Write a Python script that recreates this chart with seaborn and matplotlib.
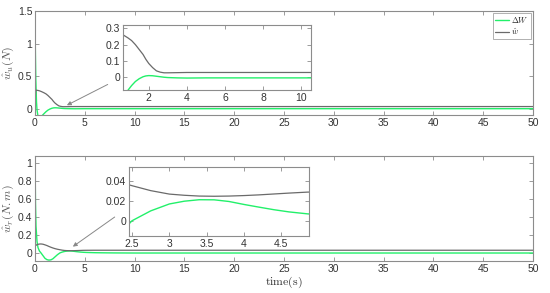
import matplotlib
matplotlib.use("Agg")
import matplotlib.pyplot as plt
import seaborn as sns

# ---- data ----
t_u = [0, 0.04, 0.08, 0.15, 0.2, 0.3, 0.45, 0.65, 0.9, 1.1, 1.3, 1.5, 1.7, 1.85, 2.0,
       2.2, 2.4, 2.6, 2.8, 3.0, 3.5, 4.0, 5.0, 7.0, 10, 20, 30, 40, 50]
dw_u = [1.33, 0.85, 0.45, 0.1, -0.02, -0.12, -0.15, -0.12, -0.08, -0.05, -0.025, -0.008,
        0.004, 0.009, 0.011, 0.01, 0.007, 0.004, 0.001, -0.001, -0.003, -0.004,
        -0.003, -0.003, -0.003, -0.003, -0.003, -0.003, -0.003]
w_u = [0.0, 0.2, 0.28, 0.281, 0.28, 0.278, 0.272, 0.26, 0.242, 0.225, 0.2, 0.17, 0.14,
       0.11, 0.085, 0.06, 0.04, 0.032, 0.028, 0.028, 0.029, 0.03, 0.03, 0.03, 0.03,
       0.03, 0.03, 0.03, 0.03]

t_r = [0, 0.05, 0.1, 0.2, 0.3, 0.45, 0.6, 0.8, 1.0, 1.2, 1.4, 1.6, 1.8, 2.0, 2.25, 2.5,
       2.75, 3.0, 3.2, 3.4, 3.6, 3.8, 4.0, 4.2, 4.4, 4.6, 4.85, 5.2, 6, 7, 8, 10, 20, 30, 40, 50]
dw_r = [1.08, 0.55, 0.3, 0.13, 0.06, 0.02, 0.0, -0.03, -0.06, -0.075, -0.08, -0.077,
        -0.065, -0.045, -0.02, 0.0, 0.01, 0.017, 0.0198, 0.0213, 0.0212, 0.0195, 0.0165,
        0.0138, 0.0112, 0.009, 0.007, 0.005, 0.0025, 0.001, 0.0, -0.001, -0.001, -0.001,
        -0.001, -0.001]
w_r = [0.07, 0.078, 0.085, 0.092, 0.096, 0.099, 0.1, 0.097, 0.09, 0.082, 0.072, 0.063,
       0.055, 0.048, 0.041, 0.0355, 0.0305, 0.027, 0.0258, 0.025, 0.0248, 0.025, 0.0255,
       0.0262, 0.0271, 0.028, 0.029, 0.0295, 0.03, 0.03, 0.03, 0.03, 0.03, 0.03, 0.03, 0.03]

series_labels = [r'$\Delta W$', r'$\hat{w}$']
ylabel_u = r'$\hat{w}_u(N)$'
ylabel_r = r'$\hat{w}_r(N.m)$'
xlabel = r'$\mathrm{time(s)}$'

GREEN = '#22f06a'
GRAY = '#6a6a6a'
SPINE = '#8c8c8c'
TXT = '#333333'

sns.set_style("white")
plt.rcParams['font.family'] = ['Liberation Sans', 'DejaVu Sans']
plt.rcParams['mathtext.fontset'] = 'cm'

fig = plt.figure(figsize=(5.5, 2.93), dpi=100)
W, H = 550, 293


def axes_px(l, t, r, b):
    return fig.add_axes([l / W, 1 - b / H, (r - l) / W, (b - t) / H])


def style(ax, fs=7.5):
    for s in ax.spines.values():
        s.set_color(SPINE)
        s.set_linewidth(0.8)
        s.set_visible(True)
    ax.tick_params(direction='in', length=3, width=0.6, colors=SPINE,
                   labelcolor=TXT, labelsize=fs, top=True, right=True,
                   pad=2, bottom=True, left=True)
    ax.set_facecolor('white')


def draw(ax, t, dw, w, legend=False):
    sns.lineplot(x=t, y=dw, ax=ax, color=GREEN, lw=1.0,
                 label=series_labels[0] if legend else None, sort=False)
    sns.lineplot(x=t, y=w, ax=ax, color=GRAY, lw=0.9,
                 label=series_labels[1] if legend else None, sort=False)


# top main axes
ax1 = axes_px(35, 11, 533, 115)
draw(ax1, t_u, dw_u, w_u, legend=True)
ax1.set_xlim(0, 50)
ax1.set_ylim(-0.1, 1.5)
ax1.set_xticks(range(0, 51, 5))
ax1.set_yticks([0, 0.5, 1, 1.5])
ax1.set_yticklabels(['0', '0.5', '1', '1.5'])
style(ax1)
ax1.set_ylabel(ylabel_u, color='#555555', fontsize=8.5, labelpad=1)
leg = ax1.legend(loc='upper right', fontsize=6, frameon=True, fancybox=False,
                 handlelength=1.7, borderpad=0.25, labelspacing=0.15, handletextpad=0.25,
                 borderaxespad=0.25)
leg.get_frame().set_edgecolor(SPINE)
leg.get_frame().set_linewidth(0.6)
ax1.annotate('', xy=(3.2, 0.05), xytext=(7.3, 0.37),
             arrowprops=dict(arrowstyle='-|>', color='#888888', lw=0.7,
                             mutation_scale=6, shrinkA=0, shrinkB=0))

# bottom main axes
ax2 = axes_px(35, 156, 533, 261)
draw(ax2, t_r, dw_r, w_r)
ax2.set_xlim(0, 50)
ax2.set_ylim(-0.09, 1.08)
ax2.set_xticks(range(0, 51, 5))
ax2.set_yticks([0, 0.2, 0.4, 0.6, 0.8, 1])
ax2.set_yticklabels(['0', '0.2', '0.4', '0.6', '0.8', '1'])
style(ax2)
ax2.set_ylabel(ylabel_r, color='#555555', fontsize=8.5, labelpad=1)
ax2.set_xlabel(xlabel, color='#333333', fontsize=8.5, labelpad=1)
ax2.annotate('', xy=(3.8, 0.07), xytext=(8.0, 0.4),
             arrowprops=dict(arrowstyle='-|>', color='#888888', lw=0.7,
                             mutation_scale=6, shrinkA=0, shrinkB=0))

# inset 1
in1 = axes_px(123, 25, 311, 90)
draw(in1, t_u, dw_u, w_u)
in1.set_xlim(0.65, 10.5)
in1.set_ylim(-0.077, 0.32)
in1.set_xticks([2, 4, 6, 8, 10])
in1.set_yticks([0, 0.1, 0.2, 0.3])
in1.set_yticklabels(['0', '0.1', '0.2', '0.3'])
style(in1)

# inset 2
in2 = axes_px(129, 167, 309, 236)
draw(in2, t_r, dw_r, w_r)
in2.set_xlim(2.46, 4.87)
in2.set_ylim(-0.0154, 0.0544)
in2.set_xticks([2.5, 3, 3.5, 4, 4.5])
in2.set_xticklabels(['2.5', '3', '3.5', '4', '4.5'])
in2.set_yticks([0, 0.02, 0.04])
in2.set_yticklabels(['0', '0.02', '0.04'])
style(in2)

fig.savefig('out.png', dpi=100)
